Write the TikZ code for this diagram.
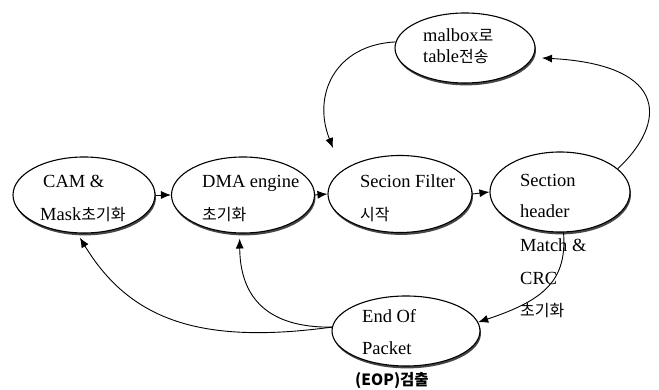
\documentclass[tikz,border=0pt]{standalone}
\usepackage{fontspec}
\setmainfont{Liberation Serif}
\newfontfamily\krfont{Noto Sans CJK KR}
\newcommand{\K}[1]{{\krfont\fontsize{16}{18}\selectfont #1}}
\usetikzlibrary{shapes.geometric,arrows.meta,shadows}
\begin{document}
\begin{tikzpicture}[x=1pt,y=1pt,
  state/.style={ellipse, draw, line width=1.1pt, fill=white, inner sep=0pt,
    drop shadow={shadow xshift=1pt, shadow yshift=-2.4pt, opacity=0.85, fill=black!85}},
  lbl/.style={anchor=base west, inner sep=0pt, font=\fontsize{18.5}{22}\selectfont},
  conn/.style={line width=0.9pt, -{Latex[length=10pt,width=8pt]}},
]
\useasboundingbox (0,0) rectangle (659,390);
% states
\node[state, minimum width=142pt, minimum height=76pt] (CAM) at (84,195) {};
\node[state, minimum width=143pt, minimum height=76pt] (DMA) at (243,195) {};
\node[state, minimum width=144pt, minimum height=77pt] (SF) at (400,196) {};
\node[state, minimum width=140pt, minimum height=80pt] (SH) at (560,198) {};
\node[state, minimum width=140pt, minimum height=70pt] (MB) at (465,342) {};
\node[state, minimum width=148pt, minimum height=70pt] (EOP) at (406,59) {};
% labels
\node[lbl] (camA) at (43,202) {CAM \&};
\node[lbl] (camB) at (40,169) {Mask\K{초기화}};
\node[lbl] (dmaA) at (202,202) {DMA engine};
\node[lbl] (dmaB) at (202,169) {\K{초기화}};
\node[lbl] (sfA) at (360,202) {Secion Filter};
\node[lbl] (sfB) at (360,169) {\K{시작}};
\node[lbl] (shA) at (520,203) {Section};
\node[lbl] (shB) at (520,172) {header};
\node[lbl] (shC) at (520,138) {Match \&};
\node[lbl] (shD) at (520,105) {CRC};
\node[lbl] (shE) at (520,73) {\K{초기화}};
\node[lbl] (mbA) at (423,348) {malbox\K{로}};
\node[lbl] (mbB) at (423,327) {table\K{전송}};
\node[lbl] (eopA) at (362,67) {End Of};
\node[lbl] (eopB) at (362,35) {Packet};
\node[lbl] (eopC) at (355,4) {\krfont\bfseries\fontsize{15.5}{18}\selectfont (EOP)검출};
% free ends
\coordinate (mbin) at (542,332);
\coordinate (sfin) at (333,242);
% connectors
\draw[conn] (CAM.east) -- (DMA.west);
\draw[conn] (DMA.east) -- (SF.west);
\draw[conn] (SF.east) -- (SH.west);
\draw[conn] (SH.22) .. controls (665,265) and (672,325) .. (mbin);
\draw[conn] (MB.175) .. controls (335,345) and (312,295) .. (sfin);
\draw[conn] (SH.-85) .. controls (567,110) and (545,90) .. (EOP.7);
\draw[conn, shorten >=5pt] (EOP.177) .. controls (200,45) and (130,70) .. (CAM.-100);
\draw[conn, shorten >=5pt] (EOP.177) .. controls (260,62) and (240,100) .. (DMA.-95);
\end{tikzpicture}
\end{document}
